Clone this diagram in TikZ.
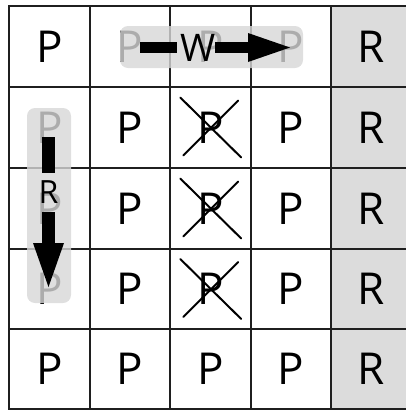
\documentclass[tikz,border=0pt]{standalone}
\usepackage{fontspec}
\setmainfont{Open Sans}
\usetikzlibrary{calc}
\definecolor{rcol}{RGB}{220,220,220}
\definecolor{boxcol}{RGB}{215,215,215}
\begin{document}
\begin{tikzpicture}[x=1pt,y=-1pt,
  cell/.style={font=\fontsize{44}{44}\selectfont, inner sep=0pt},
  gridline/.style={line width=2pt, draw=black!88},
  cross/.style={line width=2pt, line cap=round},
  hilite/.style={fill=boxcol, fill opacity=0.8, rounded corners=8pt},
  lbl/.style={inner sep=0pt}]
\useasboundingbox (0,0) rectangle (405,410);
% shaded last column
\fill[rcol] (331,6) rectangle (412,409);
% cell letters
\foreach \r/\y in {1/46.5,2/127.5,3/208.5,4/289,5/369}{
  \foreach \c/\x in {1/49.25,2/129.75,3/210.25,4/290.75}{
    \node[cell] (c-\r-\c) at (\x,\y) {P};
  }
  \node[cell] (c-\r-5) at (371.5,\y) {R};
}
% grid
\foreach \x in {9,89.5,170,250.5,331}{\draw[gridline] (\x,6) -- (\x,409);}
\foreach \y in {6,87,168,249,329,409}{\draw[gridline] (8,\y) -- (412,\y);}
% crosses
\foreach \r in {2,3,4}{
  \draw[cross] ($(c-\r-3)+(-30,-30)$) -- ($(c-\r-3)+(31,30)$);
  \draw[cross] ($(c-\r-3)+(-27,28)$) -- ($(c-\r-3)+(28,-27)$);
}
% highlight boxes
\fill[hilite] (120,26) rectangle (303,68);
\fill[hilite] (27,108) rectangle (71,303);
% horizontal arrow W
\node[lbl, font=\fontsize{38}{38}\selectfont] (W) at (198,48) {W};
\coordinate (hs) at (140,47.5);
\coordinate (he) at (290,47.5);
\fill (hs) ++(0,-5.5) rectangle (177,53);
\fill (215,42) rectangle (249,53);
\fill (248,33) -- (he) -- (248,62) -- cycle;
% vertical arrow R
\node[lbl, font=\fontsize{32}{32}\selectfont] (Rl) at (48.5,192) {R};
\coordinate (vs) at (48.5,137);
\coordinate (ve) at (48.5,287);
\fill (vs) ++(-6.5,0) rectangle (55,173);
\fill (42,212) rectangle (55,244);
\fill (33,243) -- (ve) -- (64,243) -- cycle;
\end{tikzpicture}
\end{document}
